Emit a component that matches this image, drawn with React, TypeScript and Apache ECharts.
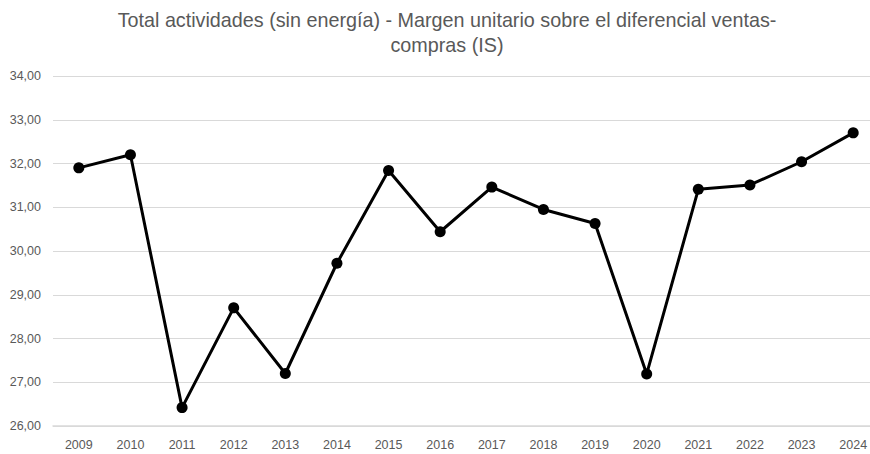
import React, { useEffect, useRef } from "react";
import * as echarts from "echarts";

const years = ["2009","2010","2011","2012","2013","2014","2015","2016","2017","2018","2019","2020","2021","2022","2023","2024"];
const values = [31.9, 32.2, 26.42, 28.7, 27.2, 29.72, 31.84, 30.44, 31.46, 30.95, 30.63, 27.19, 31.41, 31.51, 32.04, 32.7];
const titleText = "Total actividades (sin energía) - Margen unitario sobre el diferencial ventas-\ncompras (IS)";

export default function App() {
  const ref = useRef<HTMLDivElement>(null);
  useEffect(() => {
    if (!ref.current) return;
    const chart = echarts.init(ref.current, null, { renderer: "svg" });
    chart.setOption({
      animation: false,
      backgroundColor: "#ffffff",
      graphic: [
        {
          type: "text",
          x: 447,
          y: 7,
          style: {
            text: titleText,
            fill: "#595959",
            fontSize: 19.75,
            fontFamily: "Liberation Sans, sans-serif",
            lineHeight: 25,
            align: "center",
            verticalAlign: "top",
          },
        },
      ],
      grid: { left: 53, top: 76, width: 826, height: 350, containLabel: false },
      xAxis: {
        type: "category",
        data: years,
        boundaryGap: true,
        axisLine: { lineStyle: { color: "#d9d9d9", width: 1.5 } },
        axisTick: { show: false },
        axisLabel: { color: "#595959", fontSize: 12.5, margin: 12, fontFamily: "Liberation Sans, sans-serif" },
      },
      yAxis: {
        type: "value",
        min: 26,
        max: 34,
        interval: 1,
        axisLine: { show: false },
        axisTick: { show: false },
        splitLine: { lineStyle: { color: "#d9d9d9", width: 1 } },
        axisLabel: {
          color: "#595959",
          fontSize: 12.5,
          margin: 12,
          fontFamily: "Liberation Sans, sans-serif",
          formatter: (v: number) => v.toFixed(2).replace(".", ","),
        },
      },
      series: [
        {
          type: "line",
          data: values,
          symbol: "circle",
          symbolSize: 11,
          lineStyle: { color: "#000000", width: 3 },
          itemStyle: { color: "#000000" },
        },
      ],
    });
    return () => chart.dispose();
  }, []);
  return (
    <div style={{ position: "absolute", left: 0, top: 0, width: 870, height: 454, overflow: "hidden", background: "#fff" }}>
      <div ref={ref} style={{ width: 890, height: 454 }} />
    </div>
  );
}
